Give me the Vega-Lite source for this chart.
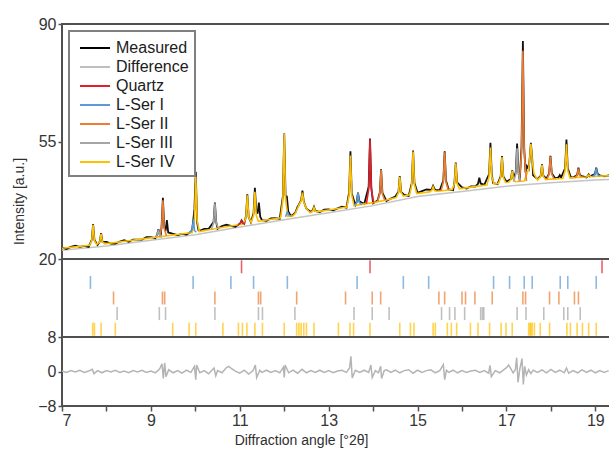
{
"$schema": "https://vega.github.io/schema/vega-lite/v6.json",
"padding": {"left": 11, "top": 15, "right": 0, "bottom": 0},
"spacing": 0,
"bounds": "flush",
"config": {
  "font": "Liberation Sans",
  "view": {"stroke": "#505050", "strokeWidth": 2},
  "axis": {"labelFontSize": 16, "labelColor": "#353535", "titleFontSize": 14, "titleFontWeight": "normal", "titleColor": "#303030", "tickColor": "#505050", "tickWidth": 1.5, "tickSize": 4, "domain": false, "grid": false, "labelPadding": 2},
  "legend": {"strokeWidth": 2}
},
"datasets": {
  "bg": [
    {"x":7.0,"y":22.6},{"x":8.0,"y":23.9},{"x":9.0,"y":25.6},{"x":10.0,"y":27.2},{"x":11.0,"y":29.5},{"x":12.0,"y":31.7},{"x":13.0,"y":33.8},{"x":14.0,"y":35.9},{"x":15.0,"y":38.6},{"x":16.0,"y":40.1},{"x":17.0,"y":41.7},{"x":18.0,"y":42.7},{"x":19.0,"y":43.5},{"x":19.33,"y":43.7}
  ],
  "meas": [
    {"x":7.0,"y":23.4},{"x":7.1,"y":23.0},{"x":7.2,"y":23.6},{"x":7.3,"y":24.0},{"x":7.4,"y":23.6},{"x":7.5,"y":23.9},{"x":7.6,"y":23.6},
    {"x":7.67,"y":25.7},{"x":7.70,"y":30.4},{"x":7.73,"y":25.7},
    {"x":7.8,"y":24.2},{"x":7.85,"y":25.2},{"x":7.88,"y":27.7},{"x":7.91,"y":25.2},
    {"x":8.0,"y":25.1},{"x":8.1,"y":24.6},{"x":8.2,"y":24.6},{"x":8.3,"y":25.2},{"x":8.4,"y":25.6},{"x":8.5,"y":25.1},{"x":8.6,"y":25.8},{"x":8.7,"y":25.8},{"x":8.8,"y":25.8},{"x":8.9,"y":26.5},{"x":9.0,"y":26.5},{"x":9.1,"y":26.2},
    {"x":9.14,"y":27.2},{"x":9.17,"y":28.9},{"x":9.20,"y":27.2},{"x":9.22,"y":26.9},
    {"x":9.24,"y":29.6},{"x":9.27,"y":38.2},{"x":9.30,"y":29.6},
    {"x":9.33,"y":28.3},{"x":9.36,"y":31.6},{"x":9.39,"y":27.9},
    {"x":9.5,"y":27.5},{"x":9.6,"y":27.1},{"x":9.7,"y":27.5},{"x":9.8,"y":27.3},{"x":9.9,"y":28.1},
    {"x":9.93,"y":28.9},{"x":9.96,"y":32.3},{"x":9.98,"y":35.0},{"x":10.01,"y":46.0},{"x":10.04,"y":31.0},{"x":10.07,"y":28.6},
    {"x":10.1,"y":28.4},{"x":10.2,"y":29.0},{"x":10.3,"y":29.0},
    {"x":10.41,"y":31.0},{"x":10.44,"y":36.8},{"x":10.47,"y":31.0},
    {"x":10.5,"y":29.0},{"x":10.6,"y":29.8},{"x":10.7,"y":30.2},{"x":10.8,"y":29.9},{"x":10.9,"y":29.6},
    {"x":11.01,"y":30.6},{"x":11.04,"y":31.5},{"x":11.07,"y":30.8},
    {"x":11.1,"y":30.5},{"x":11.14,"y":32.8},{"x":11.17,"y":39.3},{"x":11.20,"y":32.5},
    {"x":11.25,"y":31.0},{"x":11.31,"y":33.6},{"x":11.34,"y":41.2},{"x":11.37,"y":34.5},
    {"x":11.40,"y":33.5},{"x":11.43,"y":36.8},{"x":11.46,"y":32.6},
    {"x":11.5,"y":31.6},{"x":11.6,"y":31.4},{"x":11.7,"y":32.1},{"x":11.8,"y":32.2},{"x":11.9,"y":32.0},
    {"x":11.97,"y":38.7},{"x":12.0,"y":57.4},{"x":12.03,"y":38.9},{"x":12.06,"y":38.6},{"x":12.09,"y":34.2},
    {"x":12.15,"y":32.8},{"x":12.2,"y":33.2},{"x":12.25,"y":33.8},{"x":12.3,"y":35.5},{"x":12.33,"y":36.2},{"x":12.38,"y":37.5},{"x":12.41,"y":40.4},{"x":12.44,"y":37.2},{"x":12.47,"y":36.0},{"x":12.5,"y":35.0},{"x":12.6,"y":34.0},
    {"x":12.64,"y":34.5},{"x":12.67,"y":35.5},{"x":12.70,"y":34.3},
    {"x":12.8,"y":34.0},{"x":12.9,"y":34.7},{"x":13.0,"y":34.8},{"x":13.1,"y":34.5},{"x":13.2,"y":35.1},{"x":13.3,"y":35.6},{"x":13.4,"y":35.3},
    {"x":13.46,"y":39.8},{"x":13.49,"y":52.1},{"x":13.52,"y":39.5},
    {"x":13.6,"y":36.1},{"x":13.63,"y":37.0},{"x":13.66,"y":39.8},{"x":13.69,"y":37.2},
    {"x":13.8,"y":36.4},{"x":13.90,"y":41.5},{"x":13.93,"y":55.9},{"x":13.96,"y":41.3},
    {"x":14.0,"y":36.6},{"x":14.1,"y":37.4},{"x":14.15,"y":39.7},{"x":14.18,"y":46.7},{"x":14.21,"y":39.7},
    {"x":14.3,"y":37.3},{"x":14.4,"y":38.0},{"x":14.5,"y":38.6},
    {"x":14.57,"y":40.0},{"x":14.60,"y":44.7},{"x":14.63,"y":40.0},
    {"x":14.7,"y":39.1},{"x":14.8,"y":38.8},{"x":14.87,"y":42.6},{"x":14.90,"y":52.3},{"x":14.93,"y":42.6},
    {"x":15.0,"y":39.7},{"x":15.1,"y":40.2},{"x":15.2,"y":40.7},{"x":15.3,"y":40.6},
    {"x":15.32,"y":40.8},{"x":15.35,"y":41.8},{"x":15.38,"y":40.9},
    {"x":15.4,"y":40.6},{"x":15.5,"y":40.5},{"x":15.58,"y":43.4},{"x":15.61,"y":52.1},{"x":15.64,"y":43.4},
    {"x":15.7,"y":40.7},{"x":15.8,"y":40.5},{"x":15.83,"y":42.8},{"x":15.86,"y":48.7},{"x":15.89,"y":42.8},
    {"x":16.0,"y":41.3},{"x":16.1,"y":41.0},{"x":16.2,"y":41.6},{"x":16.3,"y":41.6},
    {"x":16.36,"y":42.4},{"x":16.39,"y":44.2},{"x":16.42,"y":42.5},
    {"x":16.5,"y":42.1},{"x":16.61,"y":45.3},{"x":16.64,"y":54.6},{"x":16.67,"y":45.3},
    {"x":16.7,"y":42.6},{"x":16.8,"y":42.3},{"x":16.87,"y":44.6},{"x":16.90,"y":50.7},{"x":16.93,"y":44.6},
    {"x":17.0,"y":43.0},{"x":17.10,"y":43.8},{"x":17.13,"y":46.4},{"x":17.16,"y":43.8},
    {"x":17.21,"y":45.9},{"x":17.24,"y":54.4},{"x":17.27,"y":45.9},
    {"x":17.3,"y":43.5},{"x":17.34,"y":53.6},{"x":17.37,"y":84.9},{"x":17.40,"y":53.0},
    {"x":17.43,"y":45.8},{"x":17.46,"y":47.7},{"x":17.5,"y":46.8},{"x":17.52,"y":49.5},{"x":17.55,"y":54.6},{"x":17.58,"y":49.8},
    {"x":17.6,"y":44.9},{"x":17.7,"y":43.8},{"x":17.77,"y":44.8},{"x":17.80,"y":48.2},{"x":17.83,"y":44.8},
    {"x":17.9,"y":43.9},{"x":17.96,"y":45.5},{"x":17.99,"y":50.7},{"x":18.02,"y":45.5},
    {"x":18.1,"y":44.0},{"x":18.17,"y":44.3},{"x":18.20,"y":45.0},{"x":18.23,"y":44.3},
    {"x":18.32,"y":47.0},{"x":18.35,"y":55.6},{"x":18.38,"y":47.0},
    {"x":18.45,"y":44.3},{"x":18.5,"y":44.3},{"x":18.59,"y":45.0},{"x":18.62,"y":47.2},{"x":18.65,"y":45.0},
    {"x":18.7,"y":44.7},{"x":18.8,"y":44.3},{"x":18.82,"y":44.6},{"x":18.85,"y":45.2},{"x":18.88,"y":44.6},
    {"x":18.99,"y":45.3},{"x":19.02,"y":47.2},{"x":19.05,"y":45.4},
    {"x":19.1,"y":44.9},{"x":19.2,"y":44.6},{"x":19.3,"y":44.9},{"x":19.33,"y":44.8}
  ],
  "calcIV": [
    {"phase":"L-Ser IV","x":7.0,"y":23.2},{"phase":"L-Ser IV","x":7.3,"y":23.6},
    {"phase":"L-Ser IV","x":7.62,"y":24.1},{"phase":"L-Ser IV","x":7.67,"y":25.5},{"phase":"L-Ser IV","x":7.70,"y":30.2},{"phase":"L-Ser IV","x":7.73,"y":25.5},{"phase":"L-Ser IV","x":7.78,"y":24.3},
    {"phase":"L-Ser IV","x":7.85,"y":25.1},{"phase":"L-Ser IV","x":7.88,"y":27.5},{"phase":"L-Ser IV","x":7.91,"y":25.1},{"phase":"L-Ser IV","x":7.96,"y":24.5},
    {"phase":"L-Ser IV","x":8.5,"y":25.45},{"phase":"L-Ser IV","x":9.0,"y":26.3},{"phase":"L-Ser IV","x":9.5,"y":27.15},
    {"phase":"L-Ser IV","x":9.93,"y":27.9},{"phase":"L-Ser IV","x":9.98,"y":31.6},{"phase":"L-Ser IV","x":10.01,"y":44.5},{"phase":"L-Ser IV","x":10.04,"y":31.6},{"phase":"L-Ser IV","x":10.09,"y":28.2},
    {"phase":"L-Ser IV","x":10.5,"y":29.15},{"phase":"L-Ser IV","x":11.0,"y":30.3},
    {"phase":"L-Ser IV","x":11.09,"y":30.5},{"phase":"L-Ser IV","x":11.14,"y":32.5},{"phase":"L-Ser IV","x":11.17,"y":39.0},{"phase":"L-Ser IV","x":11.20,"y":32.5},{"phase":"L-Ser IV","x":11.255,"y":30.9},
    {"phase":"L-Ser IV","x":11.31,"y":33.0},{"phase":"L-Ser IV","x":11.34,"y":40.0},{"phase":"L-Ser IV","x":11.37,"y":33.0},{"phase":"L-Ser IV","x":11.42,"y":31.2},
    {"phase":"L-Ser IV","x":11.6,"y":31.6},
    {"phase":"L-Ser IV","x":11.92,"y":32.3},{"phase":"L-Ser IV","x":11.97,"y":37.9},{"phase":"L-Ser IV","x":12.0,"y":57.2},{"phase":"L-Ser IV","x":12.03,"y":37.9},{"phase":"L-Ser IV","x":12.08,"y":32.7},
    {"phase":"L-Ser IV","x":12.2,"y":32.9},{"phase":"L-Ser IV","x":12.25,"y":33.6},{"phase":"L-Ser IV","x":12.33,"y":36.0},{"phase":"L-Ser IV","x":12.38,"y":37.3},{"phase":"L-Ser IV","x":12.41,"y":39.8},{"phase":"L-Ser IV","x":12.44,"y":37.0},{"phase":"L-Ser IV","x":12.5,"y":35.0},{"phase":"L-Ser IV","x":12.58,"y":33.8},
    {"phase":"L-Ser IV","x":12.64,"y":34.2},{"phase":"L-Ser IV","x":12.67,"y":35.3},{"phase":"L-Ser IV","x":12.70,"y":34.2},{"phase":"L-Ser IV","x":12.75,"y":34.1},
    {"phase":"L-Ser IV","x":13.0,"y":34.6},
    {"phase":"L-Ser IV","x":13.41,"y":35.5},{"phase":"L-Ser IV","x":13.46,"y":39.0},{"phase":"L-Ser IV","x":13.49,"y":50.8},{"phase":"L-Ser IV","x":13.52,"y":39.0},{"phase":"L-Ser IV","x":13.57,"y":35.9},
    {"phase":"L-Ser IV","x":14.0,"y":36.8},{"phase":"L-Ser IV","x":14.3,"y":37.6},
    {"phase":"L-Ser IV","x":14.52,"y":38.3},{"phase":"L-Ser IV","x":14.57,"y":39.8},{"phase":"L-Ser IV","x":14.60,"y":44.5},{"phase":"L-Ser IV","x":14.63,"y":39.8},{"phase":"L-Ser IV","x":14.68,"y":38.7},
    {"phase":"L-Ser IV","x":14.82,"y":39.1},{"phase":"L-Ser IV","x":14.87,"y":42.1},{"phase":"L-Ser IV","x":14.90,"y":52.0},{"phase":"L-Ser IV","x":14.93,"y":42.1},{"phase":"L-Ser IV","x":14.98,"y":39.5},
    {"phase":"L-Ser IV","x":15.27,"y":40.0},{"phase":"L-Ser IV","x":15.32,"y":40.4},{"phase":"L-Ser IV","x":15.35,"y":41.5},{"phase":"L-Ser IV","x":15.38,"y":40.4},{"phase":"L-Ser IV","x":15.43,"y":40.2},
    {"phase":"L-Ser IV","x":15.6,"y":40.4},
    {"phase":"L-Ser IV","x":15.78,"y":40.7},{"phase":"L-Ser IV","x":15.83,"y":42.5},{"phase":"L-Ser IV","x":15.86,"y":48.5},{"phase":"L-Ser IV","x":15.89,"y":42.5},{"phase":"L-Ser IV","x":15.94,"y":40.9},
    {"phase":"L-Ser IV","x":16.2,"y":41.4},
    {"phase":"L-Ser IV","x":16.56,"y":42.0},{"phase":"L-Ser IV","x":16.61,"y":44.6},{"phase":"L-Ser IV","x":16.64,"y":53.2},{"phase":"L-Ser IV","x":16.67,"y":44.6},{"phase":"L-Ser IV","x":16.72,"y":42.3},
    {"phase":"L-Ser IV","x":16.82,"y":42.5},{"phase":"L-Ser IV","x":16.87,"y":44.3},{"phase":"L-Ser IV","x":16.90,"y":50.4},{"phase":"L-Ser IV","x":16.93,"y":44.3},{"phase":"L-Ser IV","x":16.98,"y":42.8},
    {"phase":"L-Ser IV","x":17.05,"y":42.85},{"phase":"L-Ser IV","x":17.10,"y":43.6},{"phase":"L-Ser IV","x":17.13,"y":46.2},{"phase":"L-Ser IV","x":17.16,"y":43.6},{"phase":"L-Ser IV","x":17.21,"y":43.0},
    {"phase":"L-Ser IV","x":17.40,"y":43.2},{"phase":"L-Ser IV","x":17.45,"y":45.0},{"phase":"L-Ser IV","x":17.5,"y":46.8},{"phase":"L-Ser IV","x":17.52,"y":49.3},{"phase":"L-Ser IV","x":17.55,"y":54.3},{"phase":"L-Ser IV","x":17.58,"y":49.3},{"phase":"L-Ser IV","x":17.62,"y":45.4},{"phase":"L-Ser IV","x":17.7,"y":43.5},
    {"phase":"L-Ser IV","x":17.77,"y":44.6},{"phase":"L-Ser IV","x":17.80,"y":48.0},{"phase":"L-Ser IV","x":17.83,"y":44.6},{"phase":"L-Ser IV","x":17.88,"y":43.7},
    {"phase":"L-Ser IV","x":18.0,"y":43.8},
    {"phase":"L-Ser IV","x":18.27,"y":44.0},{"phase":"L-Ser IV","x":18.32,"y":46.3},{"phase":"L-Ser IV","x":18.35,"y":54.2},{"phase":"L-Ser IV","x":18.38,"y":46.3},{"phase":"L-Ser IV","x":18.43,"y":44.1},
    {"phase":"L-Ser IV","x":18.6,"y":44.3},
    {"phase":"L-Ser IV","x":18.8,"y":44.4},{"phase":"L-Ser IV","x":18.85,"y":45.0},{"phase":"L-Ser IV","x":18.9,"y":44.5},
    {"phase":"L-Ser IV","x":19.1,"y":44.7},{"phase":"L-Ser IV","x":19.33,"y":44.8}
  ],
  "calcOther": [
    {"phase":"L-Ser II","seg":"o1","x":9.19,"y":26.6},{"phase":"L-Ser II","seg":"o1","x":9.24,"y":29.1},{"phase":"L-Ser II","seg":"o1","x":9.27,"y":37.5},{"phase":"L-Ser II","seg":"o1","x":9.30,"y":29.1},{"phase":"L-Ser II","seg":"o1","x":9.35,"y":26.9},
    {"phase":"L-Ser II","seg":"o2","x":14.10,"y":37.1},{"phase":"L-Ser II","seg":"o2","x":14.15,"y":39.3},{"phase":"L-Ser II","seg":"o2","x":14.18,"y":46.5},{"phase":"L-Ser II","seg":"o2","x":14.21,"y":39.3},{"phase":"L-Ser II","seg":"o2","x":14.26,"y":37.5},
    {"phase":"L-Ser II","seg":"o3","x":15.53,"y":40.3},{"phase":"L-Ser II","seg":"o3","x":15.58,"y":42.9},{"phase":"L-Ser II","seg":"o3","x":15.61,"y":51.8},{"phase":"L-Ser II","seg":"o3","x":15.64,"y":42.9},{"phase":"L-Ser II","seg":"o3","x":15.69,"y":40.6},
    {"phase":"L-Ser II","seg":"o4","x":17.29,"y":43.1},{"phase":"L-Ser II","seg":"o4","x":17.34,"y":51.7},{"phase":"L-Ser II","seg":"o4","x":17.37,"y":82.0},{"phase":"L-Ser II","seg":"o4","x":17.40,"y":51.7},{"phase":"L-Ser II","seg":"o4","x":17.45,"y":43.2},
    {"phase":"L-Ser II","seg":"o5","x":17.91,"y":43.7},{"phase":"L-Ser II","seg":"o5","x":17.96,"y":45.3},{"phase":"L-Ser II","seg":"o5","x":17.99,"y":50.5},{"phase":"L-Ser II","seg":"o5","x":18.02,"y":45.3},{"phase":"L-Ser II","seg":"o5","x":18.07,"y":43.85},
    {"phase":"L-Ser II","seg":"o6","x":18.54,"y":44.2},{"phase":"L-Ser II","seg":"o6","x":18.59,"y":44.9},{"phase":"L-Ser II","seg":"o6","x":18.62,"y":46.9},{"phase":"L-Ser II","seg":"o6","x":18.65,"y":44.9},{"phase":"L-Ser II","seg":"o6","x":18.70,"y":44.4},
    {"phase":"L-Ser I","seg":"b1","x":9.88,"y":27.8},{"phase":"L-Ser I","seg":"b1","x":9.93,"y":28.8},{"phase":"L-Ser I","seg":"b1","x":9.96,"y":31.8},{"phase":"L-Ser I","seg":"b1","x":9.98,"y":28.5},{"phase":"L-Ser I","seg":"b1","x":10.02,"y":28.0},
    {"phase":"L-Ser I","seg":"b2","x":12.03,"y":32.6},{"phase":"L-Ser I","seg":"b2","x":12.07,"y":34.0},{"phase":"L-Ser I","seg":"b2","x":12.12,"y":32.8},
    {"phase":"L-Ser I","seg":"b3","x":13.58,"y":35.9},{"phase":"L-Ser I","seg":"b3","x":13.63,"y":36.8},{"phase":"L-Ser I","seg":"b3","x":13.66,"y":39.6},{"phase":"L-Ser I","seg":"b3","x":13.69,"y":36.8},{"phase":"L-Ser I","seg":"b3","x":13.74,"y":36.2},
    {"phase":"L-Ser I","seg":"b4","x":18.94,"y":44.55},{"phase":"L-Ser I","seg":"b4","x":18.99,"y":45.1},{"phase":"L-Ser I","seg":"b4","x":19.02,"y":47.0},{"phase":"L-Ser I","seg":"b4","x":19.05,"y":45.1},{"phase":"L-Ser I","seg":"b4","x":19.10,"y":44.7},
    {"phase":"L-Ser III","seg":"g1","x":9.10,"y":26.5},{"phase":"L-Ser III","seg":"g1","x":9.14,"y":27.1},{"phase":"L-Ser III","seg":"g1","x":9.17,"y":28.7},{"phase":"L-Ser III","seg":"g1","x":9.20,"y":27.1},{"phase":"L-Ser III","seg":"g1","x":9.24,"y":26.7},
    {"phase":"L-Ser III","seg":"g2","x":10.36,"y":28.8},{"phase":"L-Ser III","seg":"g2","x":10.41,"y":30.7},{"phase":"L-Ser III","seg":"g2","x":10.44,"y":36.6},{"phase":"L-Ser III","seg":"g2","x":10.47,"y":30.7},{"phase":"L-Ser III","seg":"g2","x":10.52,"y":29.2},
    {"phase":"L-Ser III","seg":"g3","x":17.16,"y":43.0},{"phase":"L-Ser III","seg":"g3","x":17.21,"y":45.2},{"phase":"L-Ser III","seg":"g3","x":17.24,"y":53.0},{"phase":"L-Ser III","seg":"g3","x":17.27,"y":45.2},{"phase":"L-Ser III","seg":"g3","x":17.32,"y":43.1},
    {"phase":"Quartz","seg":"q1","x":10.96,"y":30.2},{"phase":"Quartz","seg":"q1","x":11.01,"y":30.6},{"phase":"Quartz","seg":"q1","x":11.04,"y":31.3},{"phase":"Quartz","seg":"q1","x":11.07,"y":30.6},{"phase":"Quartz","seg":"q1","x":11.12,"y":30.6},
    {"phase":"Quartz","seg":"q2","x":13.85,"y":36.5},{"phase":"Quartz","seg":"q2","x":13.90,"y":40.8},{"phase":"Quartz","seg":"q2","x":13.93,"y":55.7},{"phase":"Quartz","seg":"q2","x":13.96,"y":40.8},{"phase":"Quartz","seg":"q2","x":14.01,"y":36.8}
  ],
  "ticks": [
    {"phase":"Quartz","x":11.04},{"phase":"Quartz","x":13.93},{"phase":"Quartz","x":19.15},
    {"phase":"L-Ser I","x":7.64},{"phase":"L-Ser I","x":9.95},{"phase":"L-Ser I","x":10.80},{"phase":"L-Ser I","x":11.31},{"phase":"L-Ser I","x":12.07},{"phase":"L-Ser I","x":13.64},{"phase":"L-Ser I","x":14.68},{"phase":"L-Ser I","x":15.25},{"phase":"L-Ser I","x":16.71},{"phase":"L-Ser I","x":17.07},{"phase":"L-Ser I","x":17.40},{"phase":"L-Ser I","x":17.58},{"phase":"L-Ser I","x":18.21},{"phase":"L-Ser I","x":18.38},{"phase":"L-Ser I","x":19.02},
    {"phase":"L-Ser II","x":8.16},{"phase":"L-Ser II","x":9.26},{"phase":"L-Ser II","x":9.31},{"phase":"L-Ser II","x":10.44},{"phase":"L-Ser II","x":11.42},{"phase":"L-Ser II","x":11.47},{"phase":"L-Ser II","x":12.28},{"phase":"L-Ser II","x":13.38},{"phase":"L-Ser II","x":13.98},{"phase":"L-Ser II","x":14.17},{"phase":"L-Ser II","x":15.48},{"phase":"L-Ser II","x":15.61},{"phase":"L-Ser II","x":16.0},{"phase":"L-Ser II","x":16.08},{"phase":"L-Ser II","x":16.29},{"phase":"L-Ser II","x":16.68},{"phase":"L-Ser II","x":17.37},{"phase":"L-Ser II","x":17.43},{"phase":"L-Ser II","x":17.97},{"phase":"L-Ser II","x":18.18},{"phase":"L-Ser II","x":18.53},{"phase":"L-Ser II","x":18.62},
    {"phase":"L-Ser III","x":8.24},{"phase":"L-Ser III","x":9.19},{"phase":"L-Ser III","x":9.33},{"phase":"L-Ser III","x":10.44},{"phase":"L-Ser III","x":11.42},{"phase":"L-Ser III","x":11.51},{"phase":"L-Ser III","x":12.24},{"phase":"L-Ser III","x":13.57},{"phase":"L-Ser III","x":13.98},{"phase":"L-Ser III","x":14.36},{"phase":"L-Ser III","x":15.54},{"phase":"L-Ser III","x":15.72},{"phase":"L-Ser III","x":15.84},{"phase":"L-Ser III","x":16.06},{"phase":"L-Ser III","x":16.42},{"phase":"L-Ser III","x":16.46},{"phase":"L-Ser III","x":16.49},{"phase":"L-Ser III","x":17.24},{"phase":"L-Ser III","x":17.44},{"phase":"L-Ser III","x":17.84},{"phase":"L-Ser III","x":18.29},{"phase":"L-Ser III","x":18.38},{"phase":"L-Ser III","x":18.66},
    {"phase":"L-Ser IV","x":7.69},{"phase":"L-Ser IV","x":7.73},{"phase":"L-Ser IV","x":7.88},{"phase":"L-Ser IV","x":8.20},{"phase":"L-Ser IV","x":9.49},{"phase":"L-Ser IV","x":9.86},{"phase":"L-Ser IV","x":10.01},{"phase":"L-Ser IV","x":10.62},{"phase":"L-Ser IV","x":10.97},{"phase":"L-Ser IV","x":11.06},{"phase":"L-Ser IV","x":11.16},{"phase":"L-Ser IV","x":11.34},{"phase":"L-Ser IV","x":11.51},{"phase":"L-Ser IV","x":12.0},{"phase":"L-Ser IV","x":12.28},{"phase":"L-Ser IV","x":12.33},{"phase":"L-Ser IV","x":12.38},{"phase":"L-Ser IV","x":12.44},{"phase":"L-Ser IV","x":12.5},{"phase":"L-Ser IV","x":12.67},{"phase":"L-Ser IV","x":13.22},{"phase":"L-Ser IV","x":13.48},{"phase":"L-Ser IV","x":13.56},{"phase":"L-Ser IV","x":13.93},{"phase":"L-Ser IV","x":14.60},{"phase":"L-Ser IV","x":14.84},{"phase":"L-Ser IV","x":14.92},{"phase":"L-Ser IV","x":15.35},{"phase":"L-Ser IV","x":15.40},{"phase":"L-Ser IV","x":15.67},{"phase":"L-Ser IV","x":15.76},{"phase":"L-Ser IV","x":15.88},{"phase":"L-Ser IV","x":16.19},{"phase":"L-Ser IV","x":16.36},{"phase":"L-Ser IV","x":16.62},{"phase":"L-Ser IV","x":16.88},{"phase":"L-Ser IV","x":16.99},{"phase":"L-Ser IV","x":17.13},{"phase":"L-Ser IV","x":17.50},{"phase":"L-Ser IV","x":17.53},{"phase":"L-Ser IV","x":17.55},{"phase":"L-Ser IV","x":17.58},{"phase":"L-Ser IV","x":17.63},{"phase":"L-Ser IV","x":17.76},{"phase":"L-Ser IV","x":17.97},{"phase":"L-Ser IV","x":18.36},{"phase":"L-Ser IV","x":18.44},{"phase":"L-Ser IV","x":18.59},{"phase":"L-Ser IV","x":18.71},{"phase":"L-Ser IV","x":18.85},{"phase":"L-Ser IV","x":19.02}
  ],
  "diff": [
    {"x":7.0,"d":0.1},{"x":7.1,"d":-0.2},{"x":7.2,"d":0.2},{"x":7.3,"d":-0.1},{"x":7.4,"d":0.3},{"x":7.5,"d":-0.2},{"x":7.6,"d":0.1},{"x":7.68,"d":0.5},{"x":7.72,"d":-0.5},{"x":7.8,"d":0.2},{"x":7.9,"d":-0.3},
    {"x":8.0,"d":0.2},{"x":8.1,"d":-0.1},{"x":8.2,"d":0.3},{"x":8.3,"d":-0.2},{"x":8.4,"d":0.1},{"x":8.5,"d":-0.3},{"x":8.6,"d":0.2},{"x":8.7,"d":-0.1},{"x":8.8,"d":0.3},{"x":8.9,"d":-0.2},
    {"x":9.0,"d":0.1},{"x":9.1,"d":-0.3},{"x":9.2,"d":0.6},{"x":9.25,"d":1.8},{"x":9.28,"d":-1.6},{"x":9.31,"d":2.0},{"x":9.34,"d":-1.2},{"x":9.4,"d":0.4},{"x":9.5,"d":-0.3},{"x":9.6,"d":0.2},{"x":9.7,"d":-0.4},{"x":9.8,"d":0.3},{"x":9.9,"d":-0.2},{"x":9.98,"d":1.2},{"x":10.01,"d":-1.9},{"x":10.03,"d":1.5},
    {"x":10.1,"d":-0.3},{"x":10.2,"d":0.2},{"x":10.3,"d":-0.5},{"x":10.42,"d":0.8},{"x":10.46,"d":-1.0},{"x":10.5,"d":0.2},{"x":10.6,"d":-0.3},{"x":10.7,"d":0.9},{"x":10.75,"d":1.2},{"x":10.8,"d":0.8},{"x":10.9,"d":0.1},
    {"x":11.0,"d":-0.4},{"x":11.1,"d":0.3},{"x":11.2,"d":-0.6},{"x":11.3,"d":0.2},{"x":11.35,"d":1.5},{"x":11.38,"d":-1.4},{"x":11.45,"d":0.3},{"x":11.5,"d":-0.2},{"x":11.6,"d":0.3},{"x":11.7,"d":-0.2},{"x":11.8,"d":0.2},{"x":11.9,"d":-0.3},{"x":11.98,"d":1.0},{"x":12.0,"d":-1.4},{"x":12.02,"d":1.5},
    {"x":12.1,"d":-0.3},{"x":12.2,"d":0.3},{"x":12.3,"d":-0.4},{"x":12.4,"d":0.5},{"x":12.5,"d":-0.3},{"x":12.6,"d":0.2},{"x":12.7,"d":-0.2},{"x":12.8,"d":0.3},{"x":12.9,"d":-0.2},
    {"x":13.0,"d":0.2},{"x":13.1,"d":-0.3},{"x":13.2,"d":0.1},{"x":13.3,"d":0.3},{"x":13.4,"d":-0.2},{"x":13.47,"d":0.8},{"x":13.5,"d":3.5},{"x":13.53,"d":-1.5},{"x":13.6,"d":0.3},{"x":13.7,"d":-0.2},{"x":13.8,"d":0.3},{"x":13.9,"d":-0.2},{"x":13.95,"d":1.5},{"x":13.98,"d":-1.4},
    {"x":14.05,"d":0.2},{"x":14.12,"d":-0.3},{"x":14.17,"d":1.2},{"x":14.19,"d":-1.6},{"x":14.25,"d":0.2},{"x":14.3,"d":0.4},{"x":14.4,"d":-0.2},{"x":14.5,"d":0.3},{"x":14.6,"d":-0.3},{"x":14.7,"d":0.2},{"x":14.8,"d":0.4},{"x":14.9,"d":-0.4},
    {"x":15.0,"d":0.3},{"x":15.1,"d":-0.2},{"x":15.2,"d":0.2},{"x":15.3,"d":0.4},{"x":15.4,"d":-0.3},{"x":15.5,"d":0.2},{"x":15.58,"d":1.6},{"x":15.61,"d":-1.9},{"x":15.65,"d":0.3},{"x":15.7,"d":-0.2},{"x":15.8,"d":0.3},{"x":15.9,"d":-0.3},
    {"x":16.0,"d":0.2},{"x":16.1,"d":-0.2},{"x":16.2,"d":0.1},{"x":16.3,"d":0.3},{"x":16.4,"d":-0.2},{"x":16.5,"d":0.2},{"x":16.6,"d":-0.4},{"x":16.63,"d":1.4},{"x":16.66,"d":-1.2},{"x":16.75,"d":0.2},{"x":16.85,"d":-0.3},{"x":16.95,"d":0.5},
    {"x":17.0,"d":0.9},{"x":17.05,"d":1.5},{"x":17.1,"d":0.6},{"x":17.15,"d":-0.3},{"x":17.2,"d":0.4},{"x":17.23,"d":3.2},{"x":17.26,"d":-2.5},{"x":17.3,"d":0.5},{"x":17.35,"d":3.0},{"x":17.38,"d":-3.0},{"x":17.41,"d":1.2},{"x":17.45,"d":-0.8},{"x":17.5,"d":0.4},{"x":17.55,"d":-0.5},{"x":17.6,"d":0.3},{"x":17.7,"d":-0.2},{"x":17.8,"d":0.4},{"x":17.9,"d":-0.3},
    {"x":18.0,"d":0.5},{"x":18.1,"d":-0.2},{"x":18.2,"d":0.3},{"x":18.3,"d":-0.3},{"x":18.35,"d":0.8},{"x":18.4,"d":-0.4},{"x":18.5,"d":0.2},{"x":18.6,"d":-0.3},{"x":18.7,"d":0.4},{"x":18.8,"d":-0.2},{"x":18.9,"d":0.3},
    {"x":19.0,"d":-0.3},{"x":19.1,"d":0.2},{"x":19.2,"d":-0.2},{"x":19.3,"d":0.2}
  ]
},
"vconcat": [
  {
    "width": 548, "height": 235,
    "encoding": {
      "x": {"field": "x", "type": "quantitative", "scale": {"domain": [7, 19.33], "nice": false, "zero": false}, "axis": null},
      "y": {"field": "y", "type": "quantitative", "scale": {"domain": [20, 90], "nice": false, "zero": false},
            "axis": {"values": [20, 55, 90], "title": "Intensity [a.u.]", "titleAngle": -90, "titleX": -43, "titleY": 177, "titleAlign": "center", "titleBaseline": "middle"}}
    },
    "layer": [
      {"data": {"name": "bg"}, "mark": {"type": "line", "color": "#c4c4c4", "strokeWidth": 1.5}},
      {"data": {"name": "meas"}, "mark": {"type": "line", "color": "#111111", "strokeWidth": 1.8}},
      {"data": {"name": "calcIV"}, "mark": {"type": "line", "strokeWidth": 1.6},
       "encoding": {"color": {"field": "phase", "type": "nominal",
          "scale": {"domain": ["Measured", "Difference", "Quartz", "L-Ser I", "L-Ser II", "L-Ser III", "L-Ser IV"], "range": ["#000000", "#bfbfbf", "#e0202a", "#5b9bd5", "#ed7d31", "#a5a5a5", "#ffc000"]},
          "legend": {"orient": "none", "legendX": 7, "legendY": 7, "title": null, "symbolType": "M-1.5,0L1.5,0", "symbolSize": 400, "symbolStrokeWidth": 2, "labelFontSize": 16, "labelColor": "#202020", "strokeColor": "#808080", "fillColor": "white", "padding": 6, "rowPadding": -3, "labelOffset": 10, "symbolOffset": 9}}}},
      {"data": {"name": "calcOther"}, "mark": {"type": "line", "strokeWidth": 1.6},
       "encoding": {"color": {"field": "phase", "type": "nominal"}, "detail": {"field": "seg"}}}
    ]
  },
  {
    "width": 548, "height": 78,
    "data": {"name": "ticks"},
    "mark": {"type": "tick", "orient": "vertical", "size": 13, "thickness": 1.6},
    "encoding": {
      "x": {"field": "x", "type": "quantitative", "scale": {"domain": [7, 19.33], "nice": false, "zero": false}, "axis": null},
      "y": {"field": "phase", "type": "nominal", "sort": ["Quartz", "L-Ser I", "L-Ser II", "L-Ser III", "L-Ser IV"], "scale": {"paddingInner": 0, "paddingOuter": 0}, "axis": null},
      "color": {"field": "phase", "type": "nominal", "scale": {"domain": ["Quartz", "L-Ser I", "L-Ser II", "L-Ser III", "L-Ser IV"], "range": ["#e0202a", "#5b9bd5", "#ed7d31", "#a5a5a5", "#ffc000"]}, "legend": null}
    }
  },
  {
    "width": 548, "height": 69,
    "data": {"name": "diff"},
    "mark": {"type": "line", "color": "#b4b4b4", "strokeWidth": 1.5},
    "encoding": {
      "x": {"field": "x", "type": "quantitative", "scale": {"domain": [7, 19.33], "nice": false, "zero": false},
            "axis": {"values": [7, 8, 9, 10, 11, 12, 13, 14, 15, 16, 17, 18, 19], "labelExpr": "datum.value % 2 == 1 ? datum.label : ''", "title": "Diffraction angle [°2θ]", "titleX": 239, "titleAlign": "center", "titlePadding": 5, "labelPadding": 1, "tickSize": 5}},
      "y": {"field": "d", "type": "quantitative", "scale": {"domain": [-8, 8], "nice": false, "zero": false}, "axis": {"values": [-8, 0, 8], "title": null}}
    }
  }
],
"resolve": {"scale": {"color": "independent", "y": "independent", "x": "independent"}, "legend": {"color": "independent"}}
}
